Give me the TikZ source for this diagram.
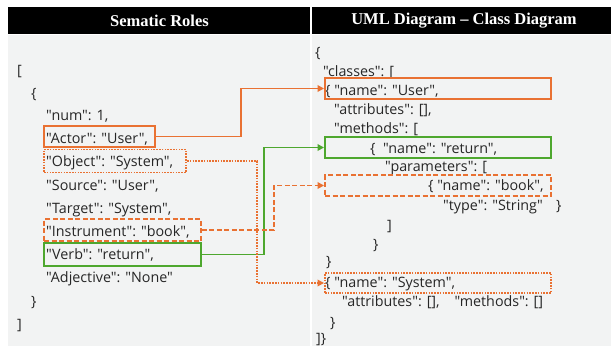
\documentclass[tikz,border=0pt]{standalone}
\usepackage{fontspec}
\setmainfont{Liberation Serif}
\newfontfamily\codefont{Open Sans}
\usetikzlibrary{arrows.meta}
\definecolor{rolorange}{HTML}{E97132}
\definecolor{rolgreen}{HTML}{4EA72E}
\definecolor{panelgray}{HTML}{F2F3F3}
\definecolor{codetext}{HTML}{262626}
\tikzset{
  x=1pt, y=-1pt,
  code/.style={anchor=base west, inner sep=0pt, text=codetext, font=\codefont\fontsize{14.3}{14.3}\selectfont},
  head/.style={text=white, font=\bfseries\fontsize{16.5}{16.5}\selectfont, inner sep=0pt},
  hbox/.style={draw, rectangle, inner sep=0pt, line width=1.9pt},
  solidbox/.style={hbox},
  dashbox/.style={hbox, dash pattern=on 5pt off 2.5pt},
  dotbox/.style={hbox, line width=1.9pt, dash pattern=on 1.6pt off 1.2pt},
  link/.style={line width=1.9pt, -{Triangle[length=6.5pt,width=6.5pt]}},
}
\begin{document}
\begin{tikzpicture}
\useasboundingbox (0,0) rectangle (611,346);
% panels and header
\fill[panelgray] (8,35) rectangle (611,346);
\fill[black] (8,7) rectangle (611,33.5);
\draw[white, line width=1.5pt] (311,7) -- (311,346);
\draw[white, line width=1.2pt] (8,34.3) -- (611,34.3);
\node[head] (hleft) at (159.5,20.5) {Sematic Roles};
\node[head] (hright) at (464,20.5) {UML Diagram -- Class Diagram};

% semantic roles (left)
\node[code] (l1) at (17,75) {[};
\node[code] (l2) at (31,98) {\{};
\node[code] (l3) at (46,120) {"num": 1,};
\node[code] (l4) at (46,143) {"Actor": "User",};
\node[code] (l5) at (46,166.5) {"Object": "System",};
\node[code] (l6) at (46,190) {"Source": "User",};
\node[code] (l7) at (46,213) {"Target": "System",};
\node[code] (l8) at (46,236) {"Instrument": "book",};
\node[code] (l9) at (46,259) {"Verb": "return",};
\node[code] (l10) at (46,282) {"Adjective": "None"};
\node[code] (l11) at (31,306) {\}};
\node[code] (l12) at (17,329) {]};

% class diagram (right)
\node[code] (r1) at (315,57) {\{};
\node[code] (r2) at (323,76) {"classes": [};
\node[code] (r3) at (325,95) {\{ "name": "User",};
\node[code] (r4) at (334,114) {"attributes": [],};
\node[code] (r5) at (334,133) {"methods": [};
\node[code] (r6) at (370,153) {\{\ \ "name": "return",};
\node[code] (r7) at (385,171) {"parameters": [};
\node[code] (r8) at (428,190) {\{ "name": "book",};
\node[code] (r9) at (443,210) {"type": "String"};
\node[code] (r9b) at (556,210) {\}};
\node[code] (r10) at (387,230) {]};
\node[code] (r11) at (373,249) {\}};
\node[code] (r12) at (326,266) {\}};
\node[code] (r13) at (325,287) {\{ "name": "System",};
\node[code] (r14) at (342,306) {"attributes": [],\ \ \ \ "methods": []};
\node[code] (r15) at (330,327) {\}};
\node[code] (r16) at (316,343.5) {]\}};

% highlight boxes
\node[solidbox, draw=rolorange, minimum width=111pt, minimum height=21pt] (actorBox) at (99.5,136.5) {};
\node[dotbox, draw=rolorange, minimum width=142pt, minimum height=23pt] (objectBox) at (115,161) {};
\node[dashbox, draw=rolorange, minimum width=157pt, minimum height=22pt] (instrBox) at (122.5,230) {};
\node[solidbox, draw=rolgreen, minimum width=157pt, minimum height=23pt] (verbBox) at (122.5,254.5) {};

\node[solidbox, draw=rolorange, minimum width=226pt, minimum height=21pt] (userBox) at (438,88.5) {};
\node[solidbox, draw=rolgreen, minimum width=226pt, minimum height=21pt] (returnBox) at (438,147.5) {};
\node[dashbox, draw=rolorange, minimum width=226pt, minimum height=21pt] (bookBox) at (438,185.5) {};
\node[dotbox, draw=rolorange, minimum width=226pt, minimum height=20pt] (systemBox) at (438,283) {};

% connectors
\draw[link, rolorange] (actorBox.east) -- ++(85,0) |- (userBox.west);
\draw[link, rolgreen] (verbBox.east) -- ++(62,0) |- (returnBox.west);
\draw[link, rolorange, dash pattern=on 5pt off 2.5pt] (instrBox.east) -- ++(72,0) |- (bookBox.west);
\draw[link, rolorange, dash pattern=on 1.6pt off 1.2pt] (objectBox.east) -- ++(70,0) |- (systemBox.west);
\end{tikzpicture}
\end{document}
